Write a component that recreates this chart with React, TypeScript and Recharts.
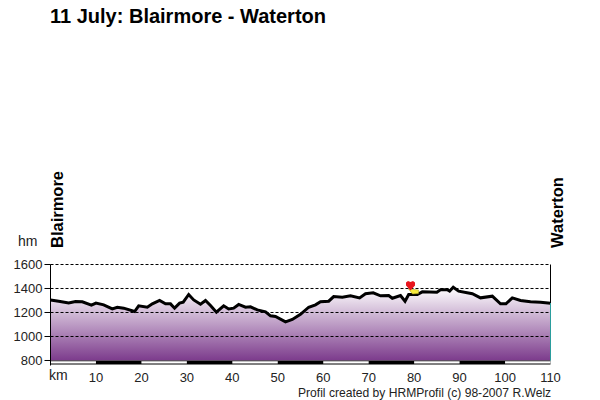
import { ComposedChart, Area, XAxis, YAxis, ReferenceLine, ReferenceArea, ReferenceDot } from 'recharts';

const FONT = 'Arial, "Liberation Sans", sans-serif';

// profile
const km = [
  0, 1.8, 4, 5.5, 7, 9, 10, 11.7, 13.6, 14.7, 16.1, 18.5, 19.4, 21.3, 22.4, 24, 25.3, 26.4, 27.3, 28.4, 29.2, 30.4,
  31.5, 33, 34.1, 35.2, 36.5, 38.1, 39.2, 40.3, 41.4, 42.9, 44, 45.5, 47.3, 48.4, 49.5, 51.7, 53.2, 55, 56.8, 58.3,
  59.4, 61.2, 62.3, 64.2, 66, 68, 69.3, 71, 72.6, 74.4, 75.2, 77, 78, 78.8, 80.7, 81.8, 85, 85.8, 87.3, 87.8, 88.6,
  89.8, 92.8, 94.6, 97.2, 99, 100.2, 101.6, 103.4, 105.6, 107.8, 110,
];
const elevation = [
  1305, 1294, 1280, 1292, 1289, 1261, 1278, 1264, 1230, 1244, 1236, 1208, 1256, 1244, 1272, 1300, 1272, 1272, 1236,
  1278, 1286, 1350, 1305, 1269, 1300, 1258, 1203, 1256, 1230, 1236, 1267, 1244, 1247, 1222, 1206, 1172, 1167, 1122,
  1142, 1185, 1244, 1264, 1289, 1294, 1333, 1328, 1339, 1322, 1356, 1364, 1339, 1342, 1319, 1342, 1294, 1350, 1350,
  1372, 1369, 1389, 1389, 1378, 1411, 1378, 1356, 1322, 1336, 1272, 1272, 1322, 1300, 1289, 1286, 1278,
];
const kmTicks = [10, 20, 30, 40, 50, 60, 70, 80, 90, 100, 110];
const hmTicks = [800, 1000, 1200, 1400, 1600];
const gridLevels = [1000, 1200, 1400, 1600];
const whiteBands = [0, 20, 40, 60, 80, 100];
const title = '11 July: Blairmore - Waterton';
const startName = 'Blairmore';
const endName = 'Waterton';
const credit = 'Profil created by HRMProfil (c) 98-2007 R.Welz';
const markerKm = 79.2;
const markerHm = 1425;

const data = km.map((k, i) => ({ km: k, hm: elevation[i] }));
const AXIS_BOTTOM = 758.33;
const BAND_BOTTOM = 766;

function Marker({ cx, cy }: { cx?: number; cy?: number }) {
  const x = cx ?? 0;
  const y = cy ?? 0;
  return (
    <g>
      <path
        d={`M${x - 2} ${y + 3.5} L${x + 8} ${y + 4.5} L${x + 8} ${y + 8} L${x + 2} ${y + 8.5} Z`}
        fill="#f7ea3c"
        stroke="#a89c1c"
        strokeWidth={0.5}
      />
      <path
        d={`M${x} ${y + 5} L${x - 4.5} ${y} L${x - 4.5} ${y - 3} L${x - 2.5} ${y - 4.5} L${x} ${y - 3.5} L${x + 2.5} ${y - 4.5} L${x + 4.5} ${y - 3} L${x + 4.5} ${y} Z`}
        fill="#e8141c"
      />
    </g>
  );
}

export default function App() {
  return (
    <div style={{ position: 'absolute', left: 0, top: 0, width: 600, height: 400, background: '#fff' }}>
      <ComposedChart
        width={600}
        height={400}
        data={data}
        margin={{ top: 264.5, right: 49.5, bottom: 0, left: 0 }}
      >
        <defs>
          <linearGradient id="profileFill" x1="0" y1="0" x2="0" y2="1">
            <stop offset="0%" stopColor="#ffffff" />
            <stop offset="100%" stopColor="#7c3b8c" />
          </linearGradient>
        </defs>
        <XAxis
          dataKey="km"
          type="number"
          domain={[0, 110]}
          ticks={kmTicks}
          height={34.5}
          axisLine={false}
          tickLine={false}
          interval={0}
          tick={{ fontSize: 13, fill: '#222', fontFamily: FONT, dy: -1 }}
        />
        <YAxis
          type="number"
          domain={[AXIS_BOTTOM, 1600]}
          ticks={hmTicks}
          width={50.5}
          interval={0}
          axisLine={{ stroke: '#000' }}
          tickLine={{ stroke: '#000' }}
          tick={{ fontSize: 13, fill: '#222', fontFamily: FONT }}
        />
        <Area
          dataKey="hm"
          type="linear"
          baseValue={800}
          fill="url(#profileFill)"
          fillOpacity={1}
          stroke="none"
          dot={false}
          activeDot={false}
          isAnimationActive={false}
        />
        {gridLevels.map((v) => (
          <ReferenceLine key={v} y={v} stroke="#000" strokeDasharray="3 2" />
        ))}
        <Area
          dataKey="hm"
          type="linear"
          baseValue={800}
          fill="none"
          stroke="#000"
          strokeWidth={3}
          dot={false}
          activeDot={false}
          isAnimationActive={false}
        />
        <ReferenceArea x1={0} x2={110} y1={BAND_BOTTOM} y2={800} fill="#000" fillOpacity={1} />
        {whiteBands.map((s) => (
          <ReferenceArea
            key={s}
            x1={s}
            x2={Math.min(s + 10, 110)}
            y1={776}
            y2={794}
            fill="#fff"
            fillOpacity={1}
          />
        ))}
        <ReferenceLine segment={[{ x: 110, y: 1600 }, { x: 110, y: 1278 }]} stroke="#000" />
        <ReferenceLine segment={[{ x: 110, y: 1278 }, { x: 110, y: 800 }]} stroke="#2a9d9d" />
        <ReferenceDot x={markerKm} y={markerHm} shape={<Marker />} ifOverflow="visible" />
        <text x={50} y={23} fontFamily={FONT} fontSize={20} fontWeight="bold" fill="#000">{title}</text>
        <text x={18} y={246} fontFamily={FONT} fontSize={14} fill="#222">hm</text>
        <text x={49} y={380} fontFamily={FONT} fontSize={14} fill="#222">km</text>
        <text transform="translate(63,248) rotate(-90)" fontFamily={FONT} fontSize={16.5} fontWeight="bold" fill="#000">{startName}</text>
        <text transform="translate(563,248) rotate(-90)" fontFamily={FONT} fontSize={16.5} fontWeight="bold" fill="#000">{endName}</text>
        <text x={298} y={397} fontFamily={FONT} fontSize={12.1} fill="#222">{credit}</text>
      </ComposedChart>
    </div>
  );
}
